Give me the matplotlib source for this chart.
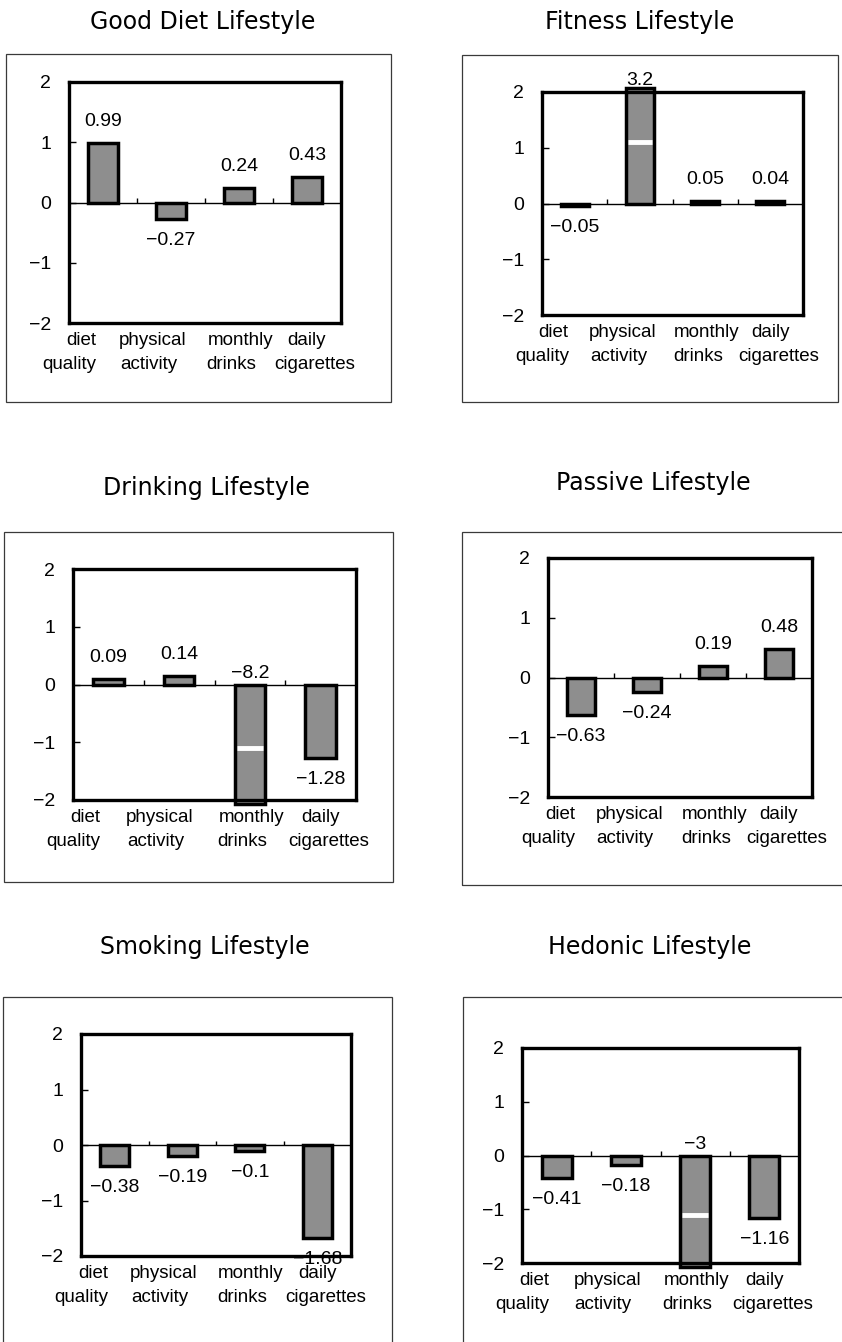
import matplotlib
matplotlib.use("Agg")
import matplotlib.pyplot as plt
from matplotlib.patches import Rectangle
import numpy as np

# --- data -------------------------------------------------------------
categories = [("diet", "quality"), ("physical", "activity"),
              ("monthly", "drinks"), ("daily", "cigarettes")]
titles = ["Good Diet Lifestyle", "Fitness Lifestyle", "Drinking Lifestyle",
          "Passive Lifestyle", "Smoking Lifestyle", "Hedonic Lifestyle"]
good_diet = [0.99, -0.27, 0.24, 0.43]
fitness = [-0.05, 3.2, 0.05, 0.04]
drinking = [0.09, 0.14, -8.2, -1.28]
passive = [-0.63, -0.24, 0.19, 0.48]
smoking = [-0.38, -0.19, -0.1, -1.68]
hedonic = [-0.41, -0.18, -3, -1.16]
series = [good_diet, fitness, drinking, passive, smoking, hedonic]
yticks = [-2, -1, 0, 1, 2]

# --- layout (pixels of the 842x1342 page) -----------------------------
W, H = 842, 1342
axes_px = [(69, 82, 341, 323), (542, 92, 803, 315),
           (73, 569, 356, 800), (548, 558, 812, 797),
           (81, 1034, 351, 1256), (522, 1048, 799, 1263)]
box_px = [(6, 54, 391, 402), (462, 55, 838, 402),
          (4, 532, 393, 882), (462, 532, 845, 885),
          (3, 997, 392, 1350), (463, 997, 845, 1350)]
title_px = [(203, 22), (640, 22), (206, 488), (653, 483), (205, 947), (650, 947)]
# word positions of the two label rows, in category units
row1_x = [0.18, 1.23, 2.52, 3.5]
row2_x = [0.0, 1.17, 2.39, 3.62]

num_font = "Liberation Sans"
title_font = "DejaVu Sans"
bar_width = 0.43
ylim = 2
cap = 2.07  # how far a clipped bar pokes past the frame

fig = plt.figure(figsize=(W / 100, H / 100), dpi=100)


def fig_rect(l, t, r, b):
    return [l / W, 1 - b / H, (r - l) / W, (b - t) / H]


def fmt(v):
    return f"{v:g}".replace("-", "\u2212")


for k, vals in enumerate(series):
    l, t, r, b = box_px[k]
    x0, y0, w0, h0 = fig_rect(l, t, r, b)
    fig.add_artist(Rectangle((x0, y0), w0, h0, transform=fig.transFigure,
                             fill=False, ec="#3a3a3a", lw=0.9))
    tx, ty = title_px[k]
    fig.text(tx / W, 1 - ty / H, titles[k], ha="center", va="center",
             fontsize=17, family=title_font)

    ax = fig.add_axes(fig_rect(*axes_px[k]))
    vals = np.array(vals, dtype=float)
    n = len(vals)
    xs = np.arange(n) + 0.5
    shown = np.clip(vals, -cap, cap)
    clipped = np.abs(vals) > ylim

    ax.bar(xs, shown, width=bar_width, color="#8e8e8e", edgecolor="black",
           linewidth=2.5, clip_on=False, zorder=3)
    ax.axhline(0, color="black", lw=1.0, zorder=2)
    ax.vlines(np.arange(1, n), 0, 0.08, color="black", lw=1.0, zorder=2)

    for x, v, s, c in zip(xs, vals, shown, clipped):
        if c:
            # break mark on bars running off the frame
            ax.hlines(np.sign(v) * 1.1, x - bar_width / 2 + 0.03,
                      x + bar_width / 2 - 0.03, color="white", lw=3.5,
                      zorder=4)
            top = max(s, 0)
            ax.annotate(fmt(v), (x, min(top, ylim)), xytext=(0, 8),
                        textcoords="offset points", ha="center", va="center",
                        fontsize=14, family=num_font, zorder=5,
                        annotation_clip=False)
        else:
            off = 15.5 if v >= 0 else -15.5
            ax.annotate(fmt(v), (x, v), xytext=(0, off),
                        textcoords="offset points", ha="center", va="center",
                        fontsize=14, family=num_font, zorder=5,
                        annotation_clip=False)

    for (w1, w2), p1, p2 in zip(categories, row1_x, row2_x):
        ax.annotate(w1, (p1, 0), xycoords=("data", "axes fraction"),
                    xytext=(0, -12.5), textcoords="offset points",
                    ha="center", va="center", fontsize=13.5, family=num_font,
                    annotation_clip=False)
        ax.annotate(w2, (p2, 0), xycoords=("data", "axes fraction"),
                    xytext=(0, -30), textcoords="offset points",
                    ha="center", va="center", fontsize=13.5, family=num_font,
                    annotation_clip=False)

    ax.set_xlim(0, n)
    ax.set_ylim(-ylim, ylim)
    ax.set_xticks([])
    ax.set_yticks(yticks)
    ax.set_yticklabels([fmt(v) for v in yticks], family=num_font, fontsize=14)
    ax.tick_params(axis="y", direction="in", length=5, width=1, pad=13)
    for sp in ax.spines.values():
        sp.set_linewidth(2.4)
        sp.set_zorder(4)

fig.savefig("out.png", dpi=100, facecolor="white")
